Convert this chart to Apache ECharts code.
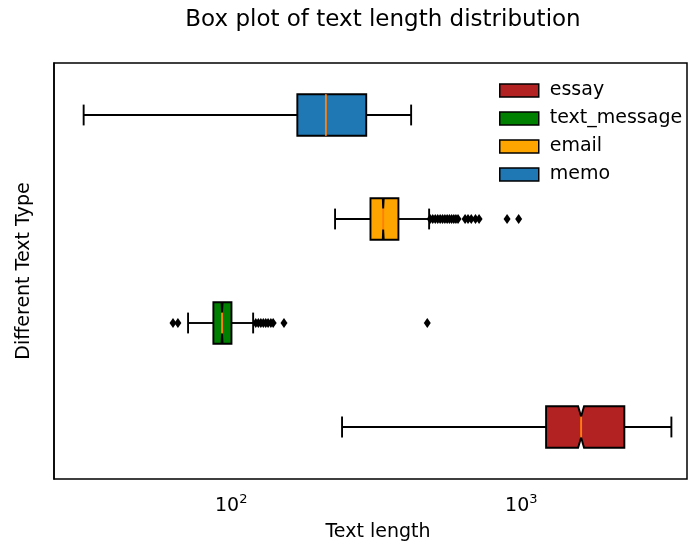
<!DOCTYPE html>
<html>
<head>
<meta charset="utf-8">
<script src="https://cdn.jsdelivr.net/npm/echarts@6/dist/echarts.min.js"></script>
<style>
  html, body { margin: 0; padding: 0; background: #fff; }
  #chart { width: 688px; height: 547px; }
</style>
</head>
<body>
<div id="chart"></div>
<script>
// text types, bottom to top
const categories = ['essay', 'text_message', 'email', 'memo']
const boxColors = ['#b22222', '#008000', '#ffa500', '#1f77b4']

// box statistics
const whiskerLow = [241, 71, 228, 31]
const q1 = [1217, 86.8, 302, 169]
const median = [1607, 93, 334, 212]
const q3 = [2265, 100.2, 377, 292]
const whiskerHigh = [3290, 119, 481, 417]
// notch edges (memo is drawn without a notch)
const notchLow = [1569, 92.6, 333, null]
const notchHigh = [1645, 93.4, 335.5, null]

// fliers
const fliersEssay = []
const fliersTextMessage = [63, 65.5, 121.5, 124, 126.5, 129, 131.5, 134, 137, 139.5, 152, 474]
const fliersEmail = [485, 495, 505, 515, 525, 535, 545, 555, 565, 575, 585, 595, 605,
  640, 655, 672, 695, 715, 893, 979]
const fliersMemo = []

const FONT = 'DejaVu Sans'
const LW = 1.9

function renderBox (params, api) {
  const idx = api.value(0)
  const px = v => api.coord([v, idx])[0]
  const y = api.coord([api.value(3), idx])[1]
  const band = params.coordSys.height / categories.length
  const half = band * 0.2
  const cap = half / 2
  const xLo = px(api.value(1))
  const xQ1 = px(api.value(2))
  const xMed = px(api.value(3))
  const xQ3 = px(api.value(4))
  const xHi = px(api.value(5))
  const nLo = api.value(6)
  const nHi = api.value(7)
  const notched = nLo != null && nHi != null && !isNaN(nLo) && !isNaN(nHi)
  const line = { stroke: '#000', lineWidth: LW }
  let points
  if (notched) {
    const xNLo = px(nLo)
    const xNHi = px(nHi)
    points = [
      [xQ1, y + half], [xNLo, y + half], [xMed, y + cap], [xNHi, y + half], [xQ3, y + half],
      [xQ3, y - half], [xNHi, y - half], [xMed, y - cap], [xNLo, y - half], [xQ1, y - half]
    ]
  } else {
    points = [[xQ1, y + half], [xQ3, y + half], [xQ3, y - half], [xQ1, y - half]]
  }
  const medHalf = notched ? cap : half
  return {
    type: 'group',
    children: [
      { type: 'line', shape: { x1: xLo, y1: y, x2: xQ1, y2: y }, style: line },
      { type: 'line', shape: { x1: xQ3, y1: y, x2: xHi, y2: y }, style: line },
      { type: 'line', shape: { x1: xLo, y1: y - cap, x2: xLo, y2: y + cap }, style: line },
      { type: 'line', shape: { x1: xHi, y1: y - cap, x2: xHi, y2: y + cap }, style: line },
      {
        type: 'polygon',
        shape: { points: points },
        style: { fill: api.visual('color'), stroke: '#000', lineWidth: LW }
      },
      {
        type: 'line',
        shape: { x1: xMed, y1: y - medHalf, x2: xMed, y2: y + medHalf },
        style: { stroke: '#ff7f0e', lineWidth: LW }
      }
    ]
  }
}

const series = categories.map((name, i) => ({
  name: name,
  type: 'custom',
  renderItem: renderBox,
  itemStyle: { color: boxColors[i], borderColor: '#000', borderWidth: 1 },
  encode: { x: [1, 5], y: 0 },
  data: [[i, whiskerLow[i], q1[i], median[i], q3[i], whiskerHigh[i], notchLow[i], notchHigh[i]]],
  z: 2
}))

const fliers = [fliersEssay, fliersTextMessage, fliersEmail, fliersMemo]
const flierData = []
fliers.forEach((list, i) => {
  list.forEach(v => flierData.push([v, categories[i]]))
})
series.push({
  name: 'fliers',
  type: 'scatter',
  symbol: 'diamond',
  symbolSize: [7, 10],
  itemStyle: { color: '#000', opacity: 1 },
  data: flierData,
  z: 3
})

function logLabel (value) {
  const p = Math.log10(value)
  if (Math.abs(p - Math.round(p)) > 1e-6) return ''
  return '{b|10}{s|' + Math.round(p) + '}'
}

const option = {
  animation: false,
  backgroundColor: '#fff',
  title: {
    text: 'Box plot of text length distribution',
    left: 378,
    top: 4,
    textAlign: 'center',
    textStyle: { fontFamily: FONT, fontSize: 23, fontWeight: 'normal', color: '#000' }
  },
  legend: {
    data: categories,
    orient: 'vertical',
    left: 494,
    top: 76,
    itemWidth: 39,
    itemHeight: 13,
    itemGap: 9,
    icon: 'rect',
    selectedMode: false,
    itemStyle: { borderColor: '#000', borderWidth: 1.5 },
    textStyle: { fontFamily: FONT, fontSize: 19, color: '#000', padding: [0, 0, 0, 6] }
  },
  grid: {
    left: 54,
    right: 1,
    top: 63,
    bottom: 63,
    show: true,
    borderColor: '#000',
    borderWidth: 1.5,
    containLabel: false
  },
  xAxis: {
    type: 'log',
    logBase: 10,
    min: 24.5,
    max: 3724,
    splitLine: { show: false },
    minorTick: { show: false },
    axisLine: { onZero: false, lineStyle: { color: '#000', width: 1.5 } },
    axisTick: { length: 6, lineStyle: { color: '#000', width: 1.5 } },
    axisLabel: {
      margin: 14,
      formatter: logLabel,
      showMinLabel: false,
      showMaxLabel: false,
      rich: {
        b: { fontFamily: FONT, fontSize: 19, color: '#000' },
        s: { fontFamily: FONT, fontSize: 13, color: '#000', padding: [0, 0, 13, 0] }
      }
    },
    name: 'Text length',
    nameLocation: 'middle',
    nameGap: 44,
    nameTextStyle: { fontFamily: FONT, fontSize: 19, color: '#000', padding: [0, 0, 0, 15] }
  },
  yAxis: {
    type: 'category',
    data: categories,
    axisLine: { lineStyle: { color: '#000', width: 1.5 } },
    axisTick: { alignWithLabel: true, length: 6, lineStyle: { color: '#000', width: 1.5 } },
    axisLabel: { show: false },
    splitLine: { show: false },
    name: 'Different Text Type',
    nameLocation: 'middle',
    nameGap: 20,
    nameTextStyle: { fontFamily: FONT, fontSize: 19, color: '#000' }
  },
  series: series
}

const chart = echarts.init(document.getElementById('chart'), null, { renderer: 'canvas' })
chart.setOption(option)
</script>
</body>
</html>
